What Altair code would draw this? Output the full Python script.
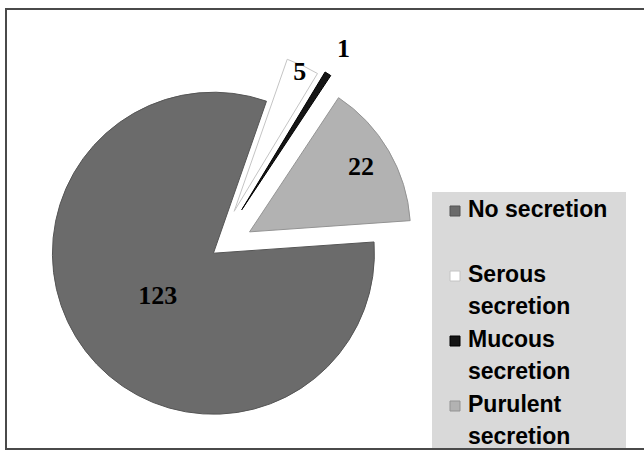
import math
import altair as alt
import pandas as pd

# ---- data ----
categories = ["No secretion", "Serous secretion", "Mucous secretion", "Purulent secretion"]
counts = [123, 5, 1, 22]
legend_text = ["No secretion", "Serous\nsecretion", "Mucous\nsecretion", "Purulent\nsecretion"]

# ---- styles ----
colors = ["#6b6b6b", "#ffffff", "#151515", "#b2b2b2"]
strokes = ["#555555", "#c4c4c4", "#000000", "#939393"]
explode = [2, 45, 50, 40]           # slice explosion (px)
label_dist = [72, 199, 240, 169]    # distance of each value label from pie centre (px)
CX, CY, R = 215, 252, 161
START = math.radians(86)            # angle of first slice (clockwise from 12 o'clock)
W, H = 644, 451

df = pd.DataFrame({
    "cat": categories,
    "n": counts,
    "idx": list(range(len(categories))),
    "legend": legend_text,
    "explode": explode,
    "ld": label_dist,
})

base = (
    alt.Chart(df)
    .transform_joinaggregate(total="sum(n)")
    .transform_window(cum="sum(n)", sort=[alt.SortField("idx")], frame=[None, 0])
    .transform_calculate(t1=f"{START} + 2*PI*datum.cum/datum.total")
    .transform_calculate(t0="datum.t1 - 2*PI*datum.n/datum.total")
    .transform_calculate(mid="(datum.t0 + datum.t1)/2")
    .transform_calculate(cx=f"{CX} + datum.explode*sin(datum.mid)")
    .transform_calculate(cy=f"{CY} - datum.explode*cos(datum.mid)")
    .transform_calculate(lx=f"{CX} + datum.ld*sin(datum.mid)")
    .transform_calculate(ly=f"{CY} - datum.ld*cos(datum.mid)")
    .transform_calculate(sy="211 + datum.idx*65")
    .transform_calculate(ty="datum.sy - 12")
)

color_scale = alt.Scale(domain=categories, range=colors)
stroke_scale = alt.Scale(domain=categories, range=strokes)

one = pd.DataFrame({"a": [0]})

frame = alt.Chart(one).mark_rect(fillOpacity=0, stroke="#4a4a4a", strokeWidth=2).encode(
    x=alt.value(6), x2=alt.value(W + 10), y=alt.value(9), y2=alt.value(449)
)

legend_bg = alt.Chart(one).mark_rect(fill="#d9d9d9").encode(
    x=alt.value(432), x2=alt.value(626), y=alt.value(192), y2=alt.value(448)
)

arcs = base.mark_arc(radius=R, strokeWidth=1).encode(
    x=alt.X("cx:Q", scale=None, axis=None),
    y=alt.Y("cy:Q", scale=None, axis=None),
    theta=alt.Theta("t0:Q", scale=None),
    theta2="t1:Q",
    color=alt.Color("cat:N", scale=color_scale, legend=None),
    stroke=alt.Stroke("cat:N", scale=stroke_scale, legend=None),
)

labels = base.mark_text(
    font="Liberation Serif", fontWeight="bold", fontSize=26, color="black",
    align="center", baseline="middle",
).encode(
    x=alt.X("lx:Q", scale=None, axis=None),
    y=alt.Y("ly:Q", scale=None, axis=None),
    text="n:Q",
)

leg_sym = base.mark_square(size=100, strokeWidth=1, opacity=1).encode(
    x=alt.value(455),
    y=alt.Y("sy:Q", scale=None, axis=None),
    color=alt.Color("cat:N", scale=color_scale, legend=None),
    stroke=alt.Stroke("cat:N", scale=stroke_scale, legend=None),
)

leg_txt = base.mark_text(
    font="Liberation Sans", fontWeight="bold", fontSize=23, color="black",
    align="left", baseline="top", lineBreak="\n", lineHeight=32,
).encode(
    x=alt.value(468),
    y=alt.Y("ty:Q", scale=None, axis=None),
    text="legend:N",
)

chart = (
    alt.layer(frame, legend_bg, arcs, labels, leg_sym, leg_txt)
    .properties(width=W, height=H, autosize=alt.AutoSizeParams(type="none"), padding=0, background="white")
    .configure_view(stroke=None)
)

chart.save("out.html", embed_options={"renderer": "svg", "actions": False})
